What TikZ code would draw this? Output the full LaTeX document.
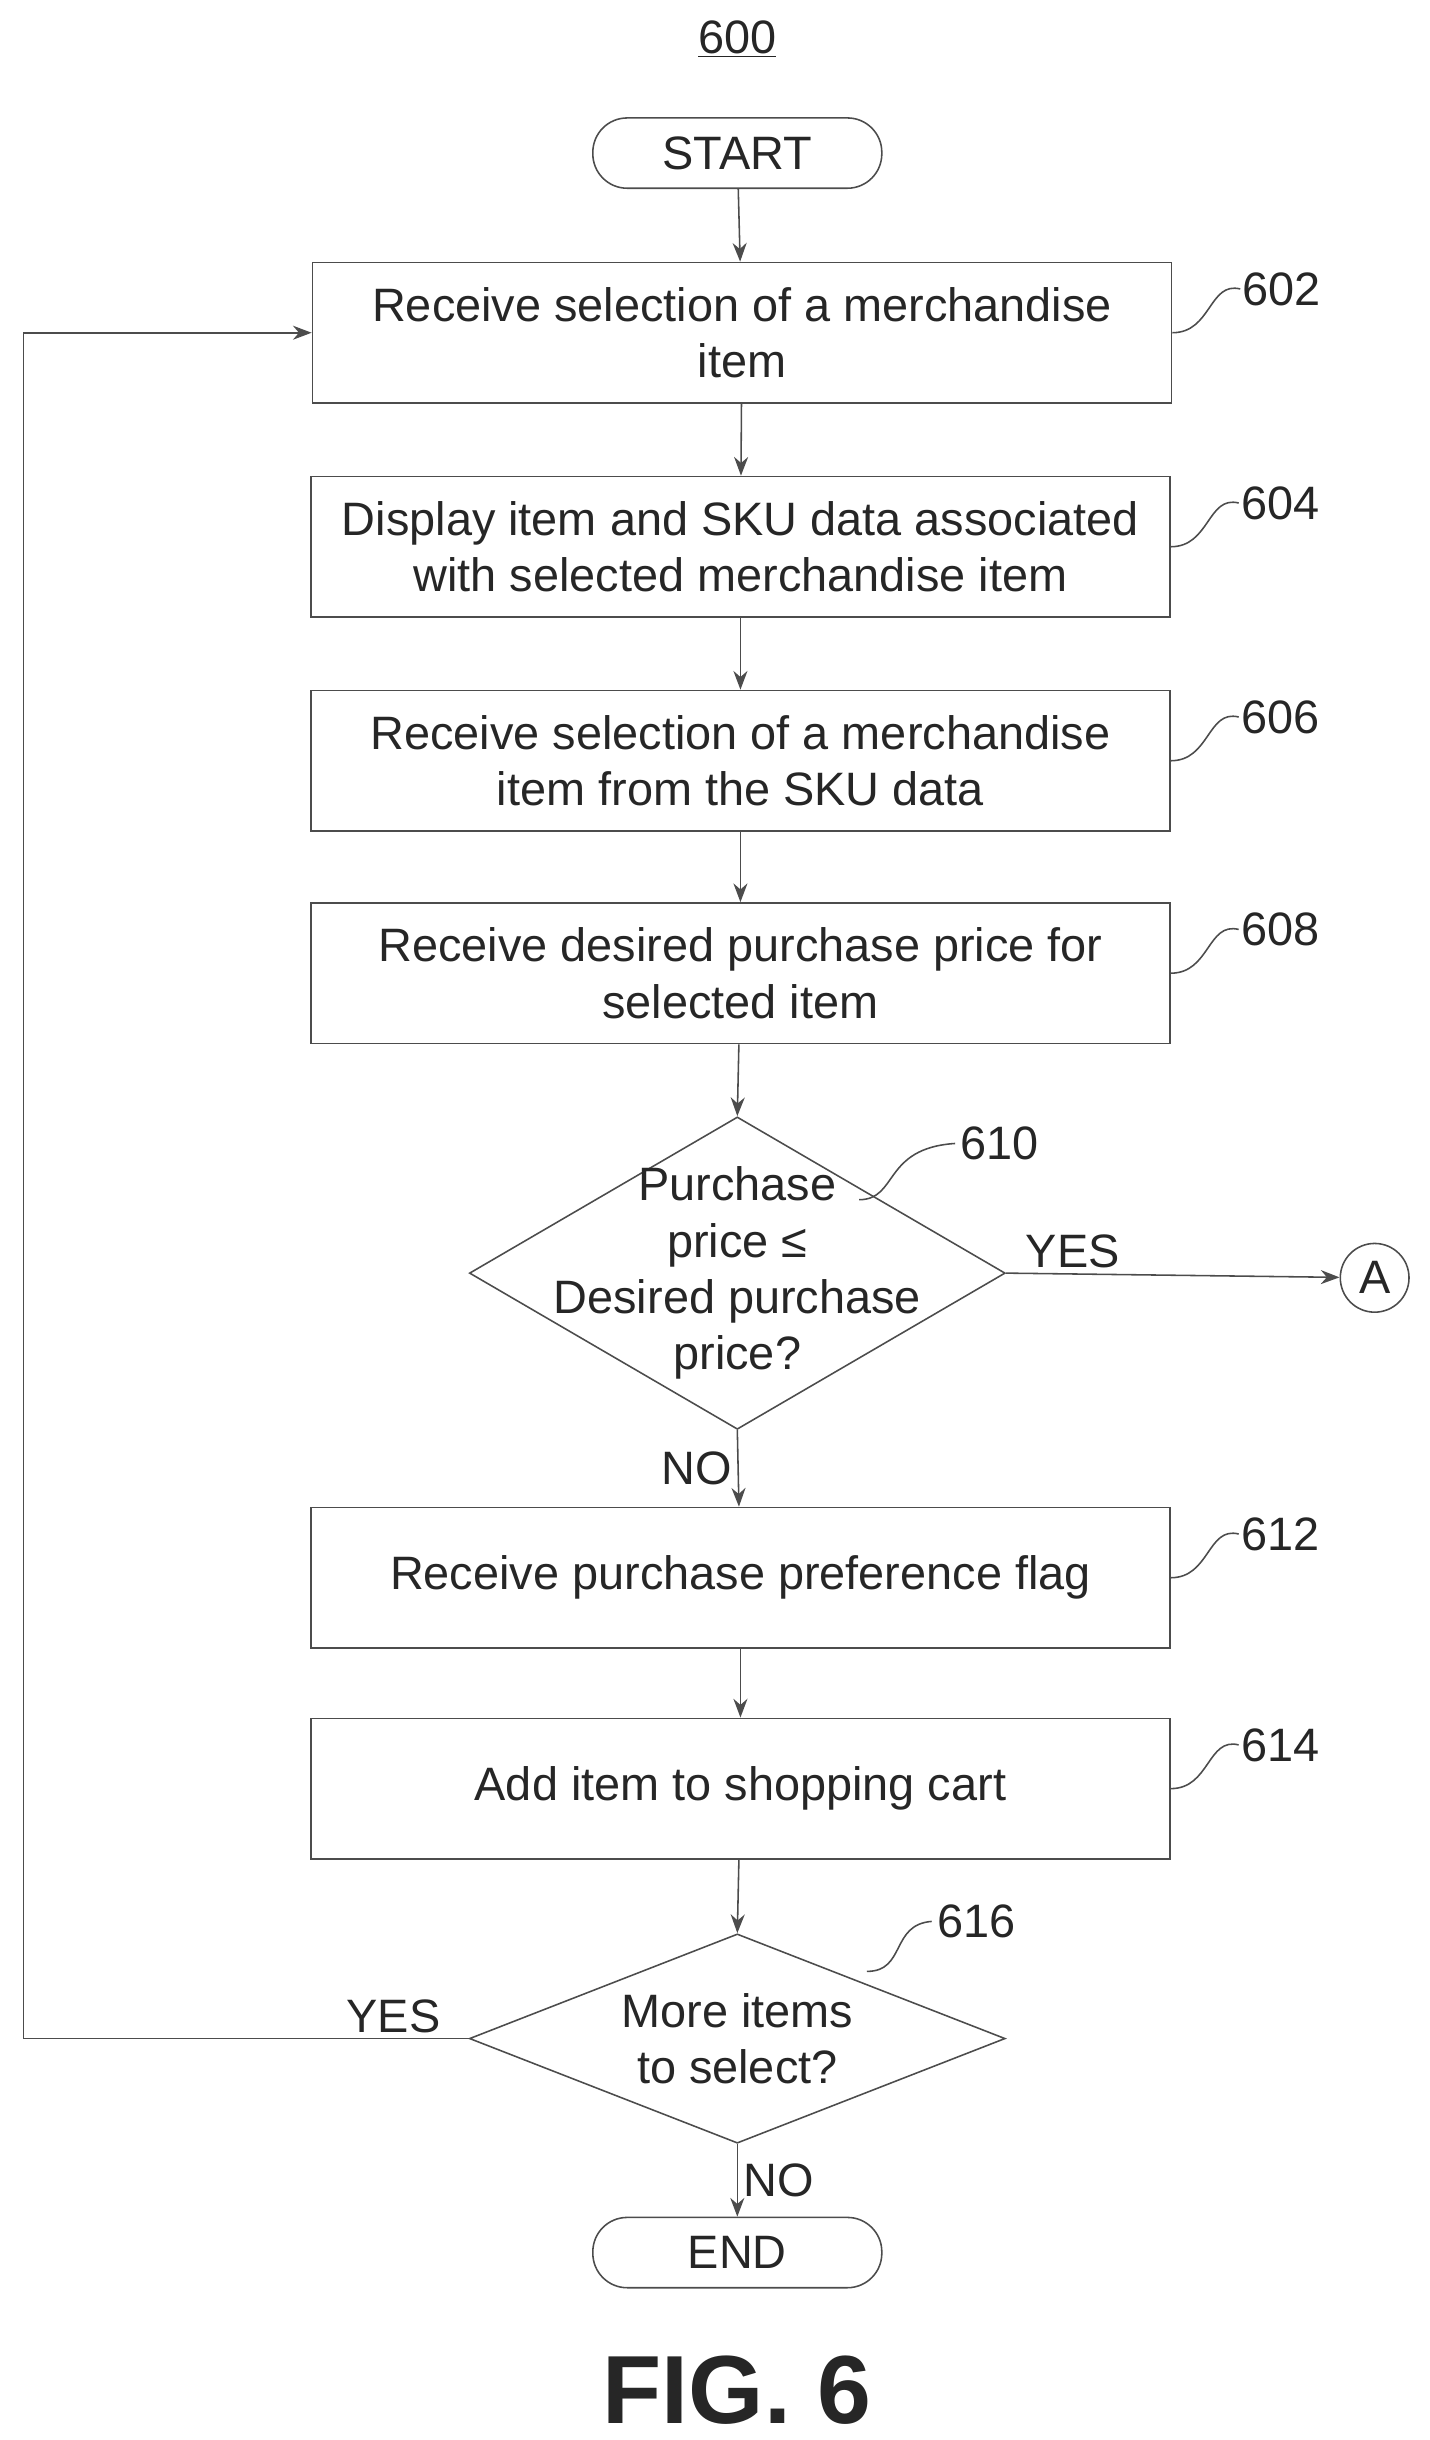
\documentclass[tikz,border=0pt]{standalone}
\usepackage{fontspec}
\setmainfont{Liberation Sans}
\usetikzlibrary{shapes.geometric,arrows.meta}

\begin{document}
\begin{tikzpicture}[x=1pt,y=-1pt,
		every node/.style={font=\fontsize{30}{36}\selectfont, text=black!85},
		process/.style={draw=black!70, line width=1pt, minimum width=550pt, minimum height=90pt, align=center},
		term/.style={draw=black!70, line width=1pt, rounded corners=22pt, minimum width=185pt, minimum height=45pt},
		decision/.style={draw=black!70, line width=1pt, diamond, aspect=1.7, inner sep=0pt, align=center},
		flow/.style={draw=black!70, line width=1pt, -{Stealth[length=12pt,width=9pt]}},
		ref/.style={draw=black!70, line width=1pt}]
		\useasboundingbox (0,0) rectangle (915,1562);
		\node (num) at (472,25) {\underline{600}};
		\node[term] (start) at (472,98) {START};
		\node[process] (s602) at (475,213) {Receive selection of a merchandise\\item};
		\node[process] (s604) at (474,350) {Display item and SKU data associated\\with selected merchandise item};
		\node[process] (s606) at (474,487) {Receive selection of a merchandise\\item from the SKU data};
		\node[process] (s608) at (474,623) {Receive desired purchase price for\\selected item};
		\node[decision, minimum width=343pt, minimum height=200pt] (d610) at (472,815) {};
		\node at (472,815) [align=center] {Purchase\\price ≤\\Desired purchase\\price?};
		\node[draw=black!70, line width=1pt, circle, minimum size=44pt, inner sep=0pt] (conA) at (880,818) {A};
		\node[process] (s612) at (474,1010) {Receive purchase preference flag};
		\node[process] (s614) at (474,1145) {Add item to shopping cart};
		\node[decision, minimum width=343pt, minimum height=134pt] (d616) at (472,1305) {};
		\node at (472,1305) [align=center] {More items\\to select?};
		\node[term] (end) at (472,1442) {END};
		\node[font=\fontsize{62}{70}\selectfont\bfseries] (fig) at (472,1530) {FIG. 6};
		% flow
		\draw[flow] (start) -- (s602);
		\draw[flow] (s602) -- (s604);
		\draw[flow] (s604) -- (s606);
		\draw[flow] (s606) -- (s608);
		\draw[flow] (s608) -- (d610.north);
		\draw[flow] (d610.east) -- node[above, pos=0.2] {YES} (conA);
		\draw[flow] (d610.south) -- node[left, pos=0.5] {NO} (s612);
		\draw[flow] (s612) -- (s614);
		\draw[flow] (s614) -- (d616.north);
		\draw[flow] (d616.south) -- node[right, pos=0.5] {NO} (end);
		\coordinate (back) at (15,1305);
		\draw[flow] (d616.west) -- node[above left, pos=0.05] {YES} (back) |- (s602.west);
		% reference numerals
		\foreach \s/\n in {s602/602,s604/604,s606/606,s608/608,s612/612,s614/614}{
			\node (l\n) at ([xshift=70pt,yshift=28pt]\s.east) {\n};
			\draw[ref] (\s.east) .. controls ++(25,0) and ++(-20,-5) .. ([xshift=2pt]l\n.west);
		}
		\node (l610) at (640,732) {610};
		\draw[ref] (550,768) .. controls (575,768) and (565,735) .. (l610.west);
		\node (l616) at (625,1230) {616};
		\draw[ref] (555,1262) .. controls (580,1262) and (570,1232) .. (l616.west);
	\end{tikzpicture}
\end{document}
